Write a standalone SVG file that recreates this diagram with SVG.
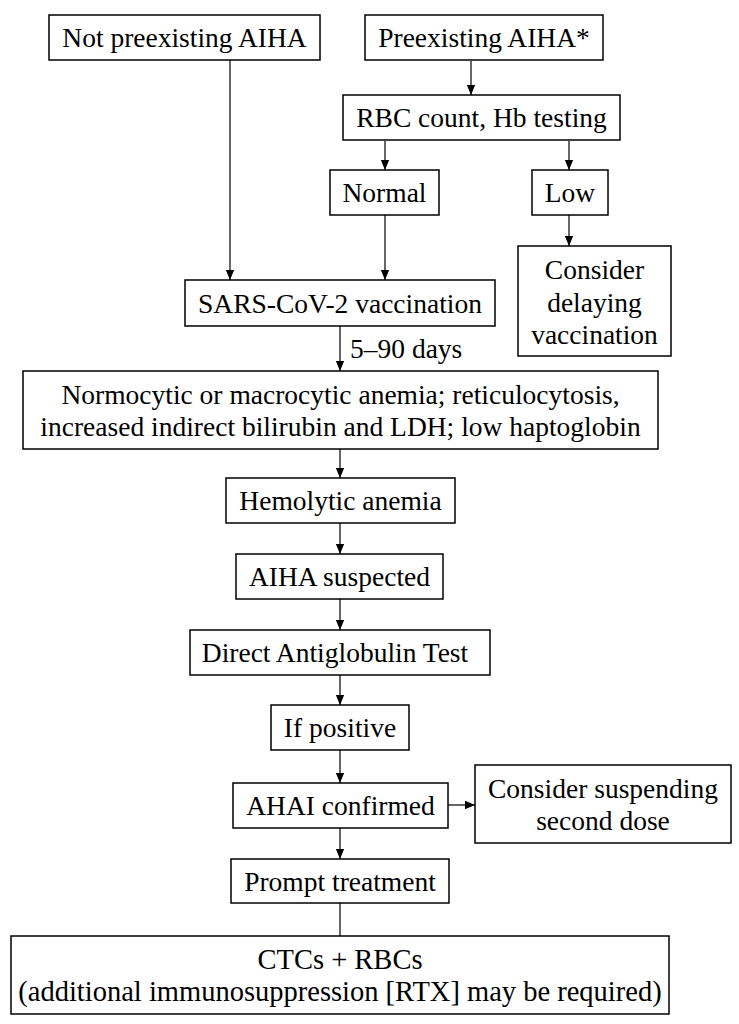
<svg xmlns="http://www.w3.org/2000/svg" width="739" height="1024" viewBox="0 0 739 1024">
<style>
.box{fill:#fff;stroke:#000;stroke-width:1.5}
text{font-family:"Liberation Serif","Times New Roman",serif;font-size:27.5px;fill:#000;text-anchor:middle}
.lbl{text-anchor:start}
.big{font-size:28.5px}
.c{stroke:#000;stroke-width:1.2;fill:none}
.a{marker-end:url(#ah)}
</style>
<defs>
<marker id="ah" markerUnits="userSpaceOnUse" markerWidth="10" markerHeight="12" refX="12" refY="5" orient="auto" viewBox="0 0 12 10">
<path d="M0,0 L12,5 L0,10 z" fill="#000"/>
</marker>
</defs>
<rect width="739" height="1024" fill="#fff"/>
<g id="connectors">
<line class="c a" x1="230" y1="60" x2="230" y2="280"/>
<line class="c a" x1="471" y1="61" x2="471" y2="95"/>
<line class="c a" x1="385" y1="141" x2="385" y2="170"/>
<line class="c a" x1="569" y1="141" x2="569" y2="170"/>
<line class="c a" x1="385" y1="215" x2="385" y2="280"/>
<line class="c a" x1="569" y1="215" x2="569" y2="246"/>
<line class="c a" x1="340" y1="326" x2="340" y2="371"/>
<line class="c a" x1="340" y1="449" x2="340" y2="478"/>
<line class="c a" x1="340" y1="523" x2="340" y2="554"/>
<line class="c a" x1="340" y1="599" x2="340" y2="630"/>
<line class="c a" x1="340" y1="675" x2="340" y2="705"/>
<line class="c a" x1="340" y1="750" x2="340" y2="783"/>
<line class="c a" x1="448" y1="805" x2="475" y2="805"/>
<line class="c a" x1="340" y1="828" x2="340" y2="859"/>
<line class="c" x1="340" y1="903" x2="340" y2="936"/>
<text class="lbl" x="350" y="358">5–90 days</text>
</g>
<g id="n1"><rect class="box" x="49" y="15" width="271" height="45"/><text x="184.5" y="47">Not preexisting AIHA</text></g>
<g id="n2"><rect class="box" x="365" y="15" width="238" height="45"/><text x="484" y="47">Preexisting AIHA*</text></g>
<g id="n3"><rect class="box" x="343" y="95" width="277" height="45"/><text x="481.5" y="127">RBC count, Hb testing</text></g>
<g id="n4"><rect class="box" x="330" y="170" width="109" height="45"/><text x="384.5" y="202">Normal</text></g>
<g id="n5"><rect class="box" x="532" y="170" width="76" height="45"/><text x="570" y="202">Low</text></g>
<g id="n6"><rect class="box" x="518" y="246" width="153" height="110"/><text x="594.5" y="279">Consider</text><text x="594.5" y="312">delaying</text><text x="594.5" y="344">vaccination</text></g>
<g id="n7"><rect class="box" x="185" y="280" width="310" height="46"/><text x="340" y="313">SARS-CoV-2 vaccination</text></g>
<g id="n8"><rect class="box" x="23" y="371" width="635" height="78"/><text x="340.5" y="404">Normocytic or macrocytic anemia; reticulocytosis,</text><text x="340.5" y="436">increased indirect bilirubin and LDH; low haptoglobin</text></g>
<g id="n9"><rect class="box" x="226" y="478" width="229" height="45"/><text x="340.5" y="510">Hemolytic anemia</text></g>
<g id="n10"><rect class="box" x="236" y="554" width="207" height="45"/><text x="339.5" y="586">AIHA suspected</text></g>
<g id="n11"><rect class="box" x="190" y="630" width="300" height="45"/><text x="335" y="662">Direct Antiglobulin Test</text></g>
<g id="n12"><rect class="box" x="271" y="705" width="138" height="45"/><text x="340" y="737">If positive</text></g>
<g id="n13"><rect class="box" x="233" y="783" width="215" height="45"/><text x="340.5" y="815">AHAI confirmed</text></g>
<g id="n14"><rect class="box" x="475" y="765" width="256" height="78"/><text x="603" y="798">Consider suspending</text><text x="603" y="830">second dose</text></g>
<g id="n15"><rect class="box" x="231" y="859" width="218" height="44"/><text x="340" y="891">Prompt treatment</text></g>
<g id="n16"><rect class="box" x="11" y="936" width="658" height="78"/><text class="big" x="340" y="969">CTCs + RBCs</text><text class="big" x="340" y="1001">(additional immunosuppression [RTX] may be required)</text></g>
</svg>
